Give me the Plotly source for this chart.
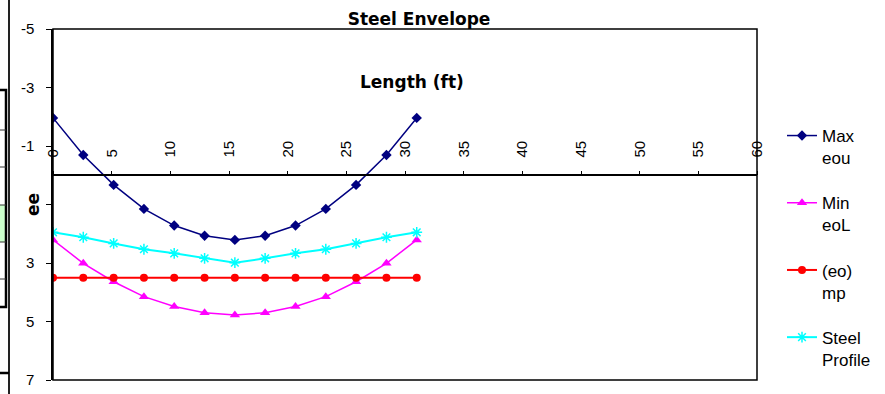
import plotly.graph_objects as go

# ---- data ----
length_ft = [0, 2.58, 5.17, 7.75, 10.33, 12.92, 15.5, 18.08, 20.67, 23.25, 25.83, 28.42, 31.0]
max_eou = [-1.96, -0.69, 0.33, 1.15, 1.72, 2.07, 2.21, 2.07, 1.72, 1.15, 0.33, -0.69, -1.96]
min_eol = [2.21, 3.01, 3.64, 4.15, 4.49, 4.70, 4.78, 4.70, 4.49, 4.15, 3.64, 3.01, 2.21]
eo_mp = [3.5, 3.5, 3.5, 3.5, 3.5, 3.5, 3.5, 3.5, 3.5, 3.5, 3.5, 3.5, 3.5]
steel_profile = [1.95, 2.12, 2.33, 2.53, 2.67, 2.84, 2.99, 2.84, 2.67, 2.53, 2.33, 2.12, 1.95]

series_names = ["Max<br>eou", "Min<br>eoL", "(eo)<br>mp", "Steel<br>Profile"]
x_ticks = [0, 5, 10, 15, 20, 25, 30, 35, 40, 45, 50, 55, 60]
y_ticks = [-5, -3, -1, 1, 3, 5, 7]
y_tick_text = ["-5", "-3", "-1", "", "3", "5", "7"]

W, H = 885, 394
L, R, T, B = 53, 128, 29, 14
PW, PH = W - L - R, H - T - B


def px_x(p):
    return (p - L) / PW


def px_y(p):
    return (H - B - p) / PH


REG = "Liberation Sans, Arial, sans-serif"
BOLD = "DejaVu Sans, sans-serif"

fig = go.Figure()

fig.add_trace(go.Scatter(
    x=length_ft, y=max_eou, name=series_names[0], mode="lines+markers",
    line=dict(color="#000080", width=1.5),
    marker=dict(symbol="diamond", size=8, color="#000080"),
    legendgroup="a"))
fig.add_trace(go.Scatter(
    x=length_ft, y=min_eol, name=series_names[1], mode="lines+markers",
    line=dict(color="#FF00FF", width=1.5),
    marker=dict(symbol="triangle-up", size=9, color="#FF00FF"),
    legendgroup="b"))
fig.add_trace(go.Scatter(
    x=length_ft, y=eo_mp, name=series_names[2], mode="lines+markers",
    line=dict(color="#FF0000", width=2),
    marker=dict(symbol="circle", size=8, color="#FF0000"),
    legendgroup="c"))
fig.add_trace(go.Scatter(
    x=length_ft, y=steel_profile, name=series_names[3], mode="lines+markers",
    line=dict(color="#00FFFF", width=2),
    marker=dict(symbol="asterisk-open", size=9, color="#00FFFF",
                line=dict(color="#00FFFF", width=1.5)),
    legendgroup="d"))

shapes = [
    # plot area border
    dict(type="rect", xref="paper", yref="paper", x0=0, x1=1, y0=0, y1=1,
         line=dict(color="black", width=1.5), layer="above"),
    # left-edge spreadsheet artifacts
    dict(type="line", xref="paper", yref="paper", x0=px_x(9), x1=px_x(9),
         y0=px_y(0), y1=px_y(394), line=dict(color="#222", width=2)),
    dict(type="rect", xref="paper", yref="paper", x0=px_x(-3), x1=px_x(6),
         y0=px_y(205), y1=px_y(242), fillcolor="#CCFFCC", line=dict(width=0)),
    dict(type="rect", xref="paper", yref="paper", x0=px_x(-3), x1=px_x(6),
         y0=px_y(307), y1=px_y(90), line=dict(color="black", width=2.5)),
    dict(type="line", xref="paper", yref="paper", x0=px_x(0), x1=px_x(9),
         y0=px_y(373), y1=px_y(373), line=dict(color="black", width=2.5)),
]
for yy in [130, 167, 205, 242, 279]:
    shapes.append(dict(type="line", xref="paper", yref="paper", x0=px_x(0), x1=px_x(6),
                       y0=px_y(yy), y1=px_y(yy), line=dict(color="#333", width=1)))

annotations = [
    dict(text="<b>Length (ft)</b>", xref="paper", yref="paper",
         x=px_x(412), y=px_y(82), xanchor="center", yanchor="middle",
         showarrow=False, font=dict(family=BOLD, size=17, color="black")),
    dict(text="<b>ee</b>", xref="paper", yref="paper", textangle=-90,
         x=px_x(33), y=px_y(205), xanchor="center", yanchor="middle",
         showarrow=False, font=dict(family=BOLD, size=17, color="black")),
]

fig.update_layout(
    width=W, height=H,
    margin=dict(l=L, r=R, t=T, b=B, autoexpand=False),
    paper_bgcolor="white", plot_bgcolor="white",
    title=dict(text="<b>Steel Envelope</b>", x=419 / W,
               xref="container", y=1 - 19 / H, yref="container",
               xanchor="center", yanchor="middle",
               font=dict(family=BOLD, size=17, color="black")),
    font=dict(family=REG, size=15, color="black"),
    showlegend=True,
    legend=dict(x=px_x(782), y=px_y(118), xanchor="left", yanchor="top",
                valign="top", tracegroupgap=20, bgcolor="rgba(0,0,0,0)",
                font=dict(family=REG, size=17, color="black")),
    xaxis=dict(range=[0, 60], anchor="free", position=7 / 12, side="top",
               tickvals=x_ticks, ticktext=[str(v) for v in x_ticks],
               tickangle=-90, ticks="outside", ticklen=4, tickcolor="black",
               showline=True, linecolor="black", linewidth=1.5,
               showgrid=False, zeroline=False, ticklabelstandoff=10,
               tickfont=dict(family=REG, size=15, color="black")),
    yaxis=dict(range=[7, -5], tickvals=y_ticks, ticktext=y_tick_text,
               ticks="outside", ticklen=5, tickcolor="black",
               showline=True, linecolor="black", linewidth=1.5,
               showgrid=False, zeroline=False, ticklabelstandoff=9,
               tickfont=dict(family=REG, size=15, color="black")),
    shapes=shapes, annotations=annotations,
)

fig.write_html("out.html", config={"displayModeBar": False},
               post_script="document.body.style.margin='0';document.body.style.padding='0';")
